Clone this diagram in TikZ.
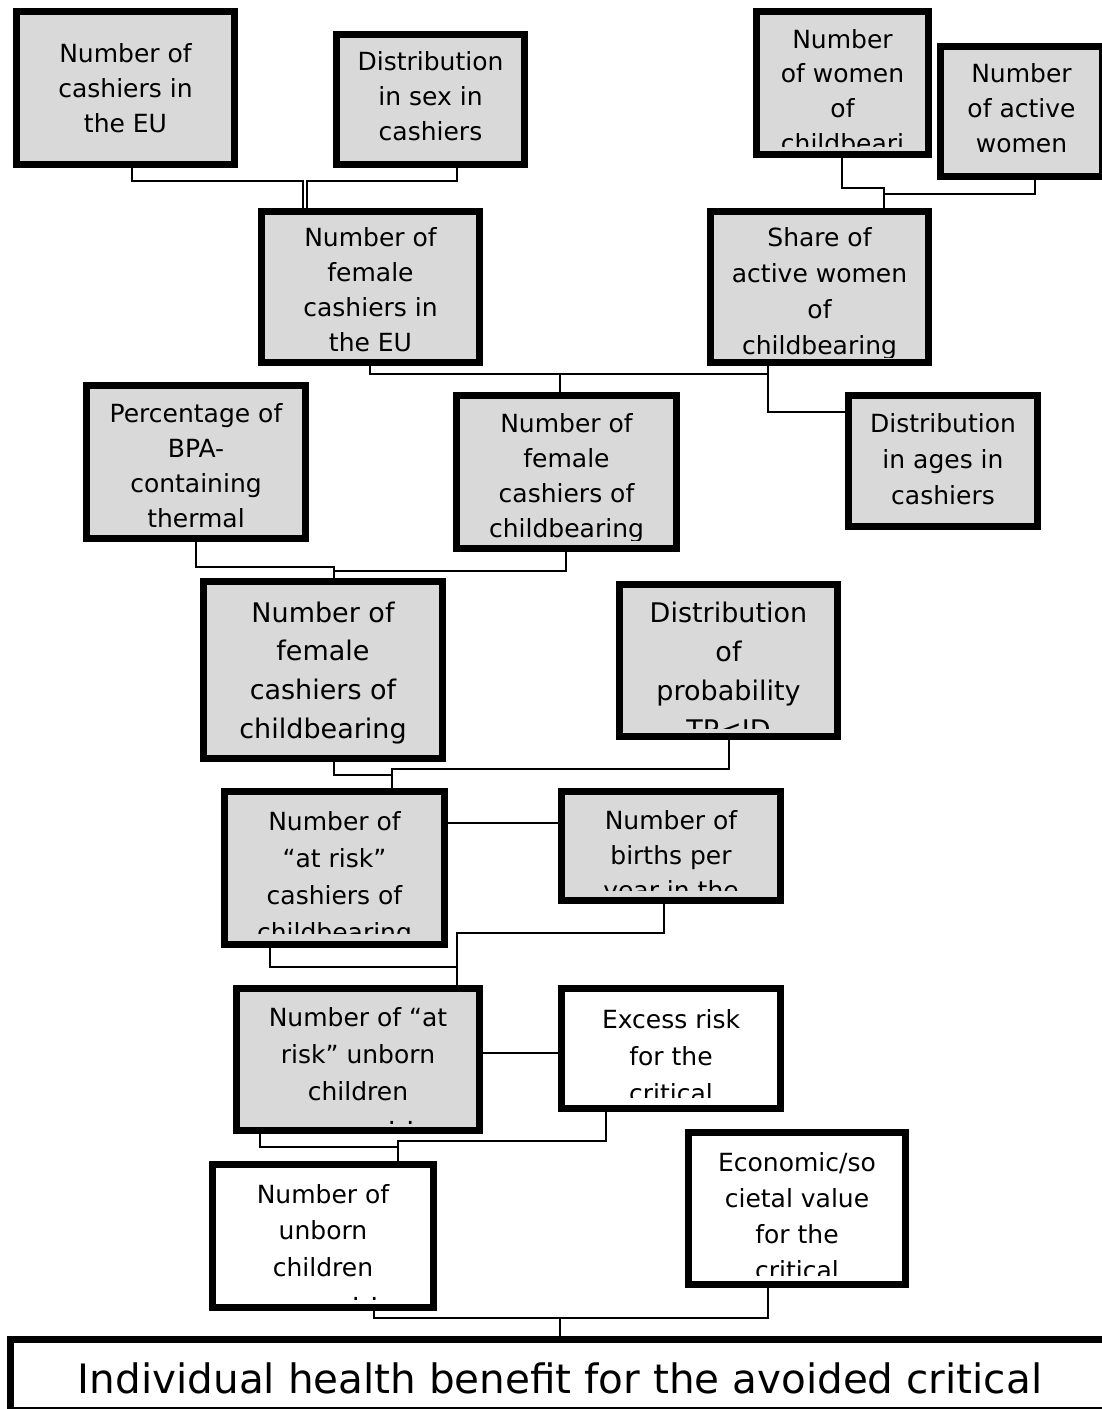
\documentclass[tikz,border=0pt]{standalone}
\usepackage{fontspec}
\setmainfont{DejaVu Sans}
\definecolor{boxgray}{RGB}{217,217,217}
\tikzset{
  boxst/.style={draw=black, line width=7pt, inner sep=0pt, outer sep=0pt, rectangle},
  conn/.style={draw=black, line width=1.6pt},
  txt/.style={align=center, inner sep=0pt, outer sep=0pt, text=black, font=\fontsize{25}{35.3}\selectfont},
  dots/.style={inner sep=0pt, outer sep=0pt, text=black, font=\fontsize{25}{25}\selectfont, anchor=base},
}
\newcommand\mybox[6]{%
  \pgfmathsetmacro\bw{#4-#2-7}%
  \pgfmathsetmacro\bh{#5-#3-7}%
  \pgfmathsetmacro\bx{(#2+#4)/2}%
  \pgfmathsetmacro\by{(#3+#5)/2}%
  \node[boxst, fill=#6, minimum width=\bw pt, minimum height=\bh pt] (#1) at (\bx,\by) {};%
}
% #1 box, #2 clip bottom y, #3 baseline of LAST line, #4 extra style, #5 text
\newcommand\mytext[5]{%
  \begin{scope}
    \path ([shift={(3.5pt,-3.5pt)}]#1.north west) coordinate (#1a);
    \path ([xshift=-3.5pt]#1.south east) coordinate (#1b);
    \path (0,#2) coordinate (#1c);
    \path (0,#3) coordinate (#1d);
    \clip (#1a) rectangle (#1b |- #1c);
    \node[txt,#4,anchor=base] (#1t) at (#1.center |- #1d) {#5};
  \end{scope}%
}
\begin{document}
\begin{tikzpicture}[x=1pt,y=-1pt]
\useasboundingbox (0,0) rectangle (1102,1409);
\fill[white] (0,0) rectangle (1102,1409);
\clip (0,0) rectangle (1102,1409);

% boxes
\mybox{b1}{13}{8}{238}{168}{boxgray}
\mytext{b1}{161}{132.6}{}{Number of\\cashiers in\\the EU}
\mybox{b2}{333}{31}{528}{168}{boxgray}
\mytext{b2}{161}{140.6}{}{Distribution\\in sex in\\cashiers}
\mybox{b3}{753}{8}{932}{158}{boxgray}
\mytext{b3}{146}{152.1}{font=\fontsize{25}{34.7}\selectfont}{Number\\of women\\of\\childbeari}
\mybox{b4}{937}{43}{1106}{180}{boxgray}
\mytext{b4}{173}{152.6}{}{Number\\of active\\women}
\mybox{b5}{258}{208}{483}{366}{boxgray}
\mytext{b5}{359}{351.9}{}{Number of\\female\\cashiers in\\the EU}
\mybox{b6}{707}{208}{932}{366}{boxgray}
\mytext{b6}{357}{354}{font=\fontsize{25}{36}\selectfont}{Share of\\active women\\of\\childbearing}
\mybox{b7}{83}{382}{309}{542}{boxgray}
\mytext{b7}{535}{527.9}{}{Percentage of\\BPA-\\containing\\thermal}
\mybox{b8}{453}{392}{680}{552}{boxgray}
\mytext{b8}{540}{537.9}{}{Number of\\female\\cashiers of\\childbearing}
\mybox{b9}{845}{392}{1041}{530}{boxgray}
\mytext{b9}{523}{504}{font=\fontsize{25}{36}\selectfont}{Distribution\\in ages in\\cashiers}
\mybox{b10}{200}{578}{446}{762}{boxgray}
\mytext{b10}{755}{738.1}{font=\fontsize{27}{38.7}\selectfont}{Number of\\female\\cashiers of\\childbearing}
\mybox{b11}{616}{581}{841}{740}{boxgray}
\mytext{b11}{728}{739}{font=\fontsize{27}{39}\selectfont}{Distribution\\of\\probability\\TP<ID}
\mybox{b12}{221}{788}{448}{948}{boxgray}
\mytext{b12}{933}{941.9}{font=\fontsize{25}{37.3}\selectfont}{Number of\\“at risk”\\cashiers of\\childbearing}
\mybox{b13}{558}{788}{784}{904}{boxgray}
\mytext{b13}{890}{899.6}{}{Number of\\births per\\year in the}
\mybox{b14}{233}{985}{483}{1134}{boxgray}
\mytext{b14}{1123}{1100}{font=\fontsize{25}{37}\selectfont}{Number of “at\\risk” unborn\\children}
\node[dots] (b14d) at (401,1124) {. .};
\mybox{b15}{558}{985}{784}{1112}{white}
\mytext{b15}{1097}{1102}{font=\fontsize{25}{37}\selectfont}{Excess risk\\for the\\critical}
\mybox{b16}{209}{1161}{437}{1311}{white}
\mytext{b16}{1302}{1276}{font=\fontsize{25}{36.5}\selectfont}{Number of\\unborn\\children}
\node[dots] (b16d) at (365,1300) {. .};
\mybox{b17}{685}{1129}{909}{1288}{white}
\mytext{b17}{1275}{1279}{font=\fontsize{25}{36}\selectfont}{Economic/so\\cietal value\\for the\\critical}
\mybox{b18}{7}{1336}{1112}{1414}{white}
\node[txt,anchor=base,font=\fontsize{40.5}{48}\selectfont] (b18t) at (560,1393) {Individual health benefit for the avoided critical};

% connectors
\draw[conn] (132,0 |- b1.south) |- (303,181) -- (303,0 |- b5.north);
\draw[conn] (457,0 |- b2.south) |- (307,181) -- (307,0 |- b5.north);
\draw[conn] (842,0 |- b3.south) |- (884,188) -- (884,0 |- b6.north);
\draw[conn] (1035,0 |- b4.south) |- (884,194);
\draw[conn] (370,0 |- b5.south) |- (560,374) -- (560,0 |- b8.north);
\draw[conn] (768,0 |- b6.south) |- (560,374);
\draw[conn] (768,374) |- (b9.west |- 0,412);
\draw[conn] (196,0 |- b7.south) |- (334,567) -- (334,0 |- b10.north);
\draw[conn] (566,0 |- b8.south) |- (334,571);
\draw[conn] (334,0 |- b10.south) |- (392,775) -- (392,0 |- b12.north);
\draw[conn] (729,0 |- b11.south) |- (392,769) -- (392,0 |- b12.north);
\draw[conn] (b12.east |- 0,823) -- (b13.west |- 0,823);
\draw[conn] (270,0 |- b12.south) |- (457,967) -- (457,0 |- b14.north);
\draw[conn] (664,0 |- b13.south) |- (457,933) -- (457,0 |- b14.north);
\draw[conn] (b14.east |- 0,1053) -- (b15.west |- 0,1053);
\draw[conn] (260,0 |- b14.south) |- (398,1147) -- (398,0 |- b16.north);
\draw[conn] (606,0 |- b15.south) |- (398,1141) -- (398,0 |- b16.north);
\draw[conn] (374,0 |- b16.south) |- (560,1318) -- (560,0 |- b18.north);
\draw[conn] (768,0 |- b17.south) |- (560,1318);
\end{tikzpicture}
\end{document}
